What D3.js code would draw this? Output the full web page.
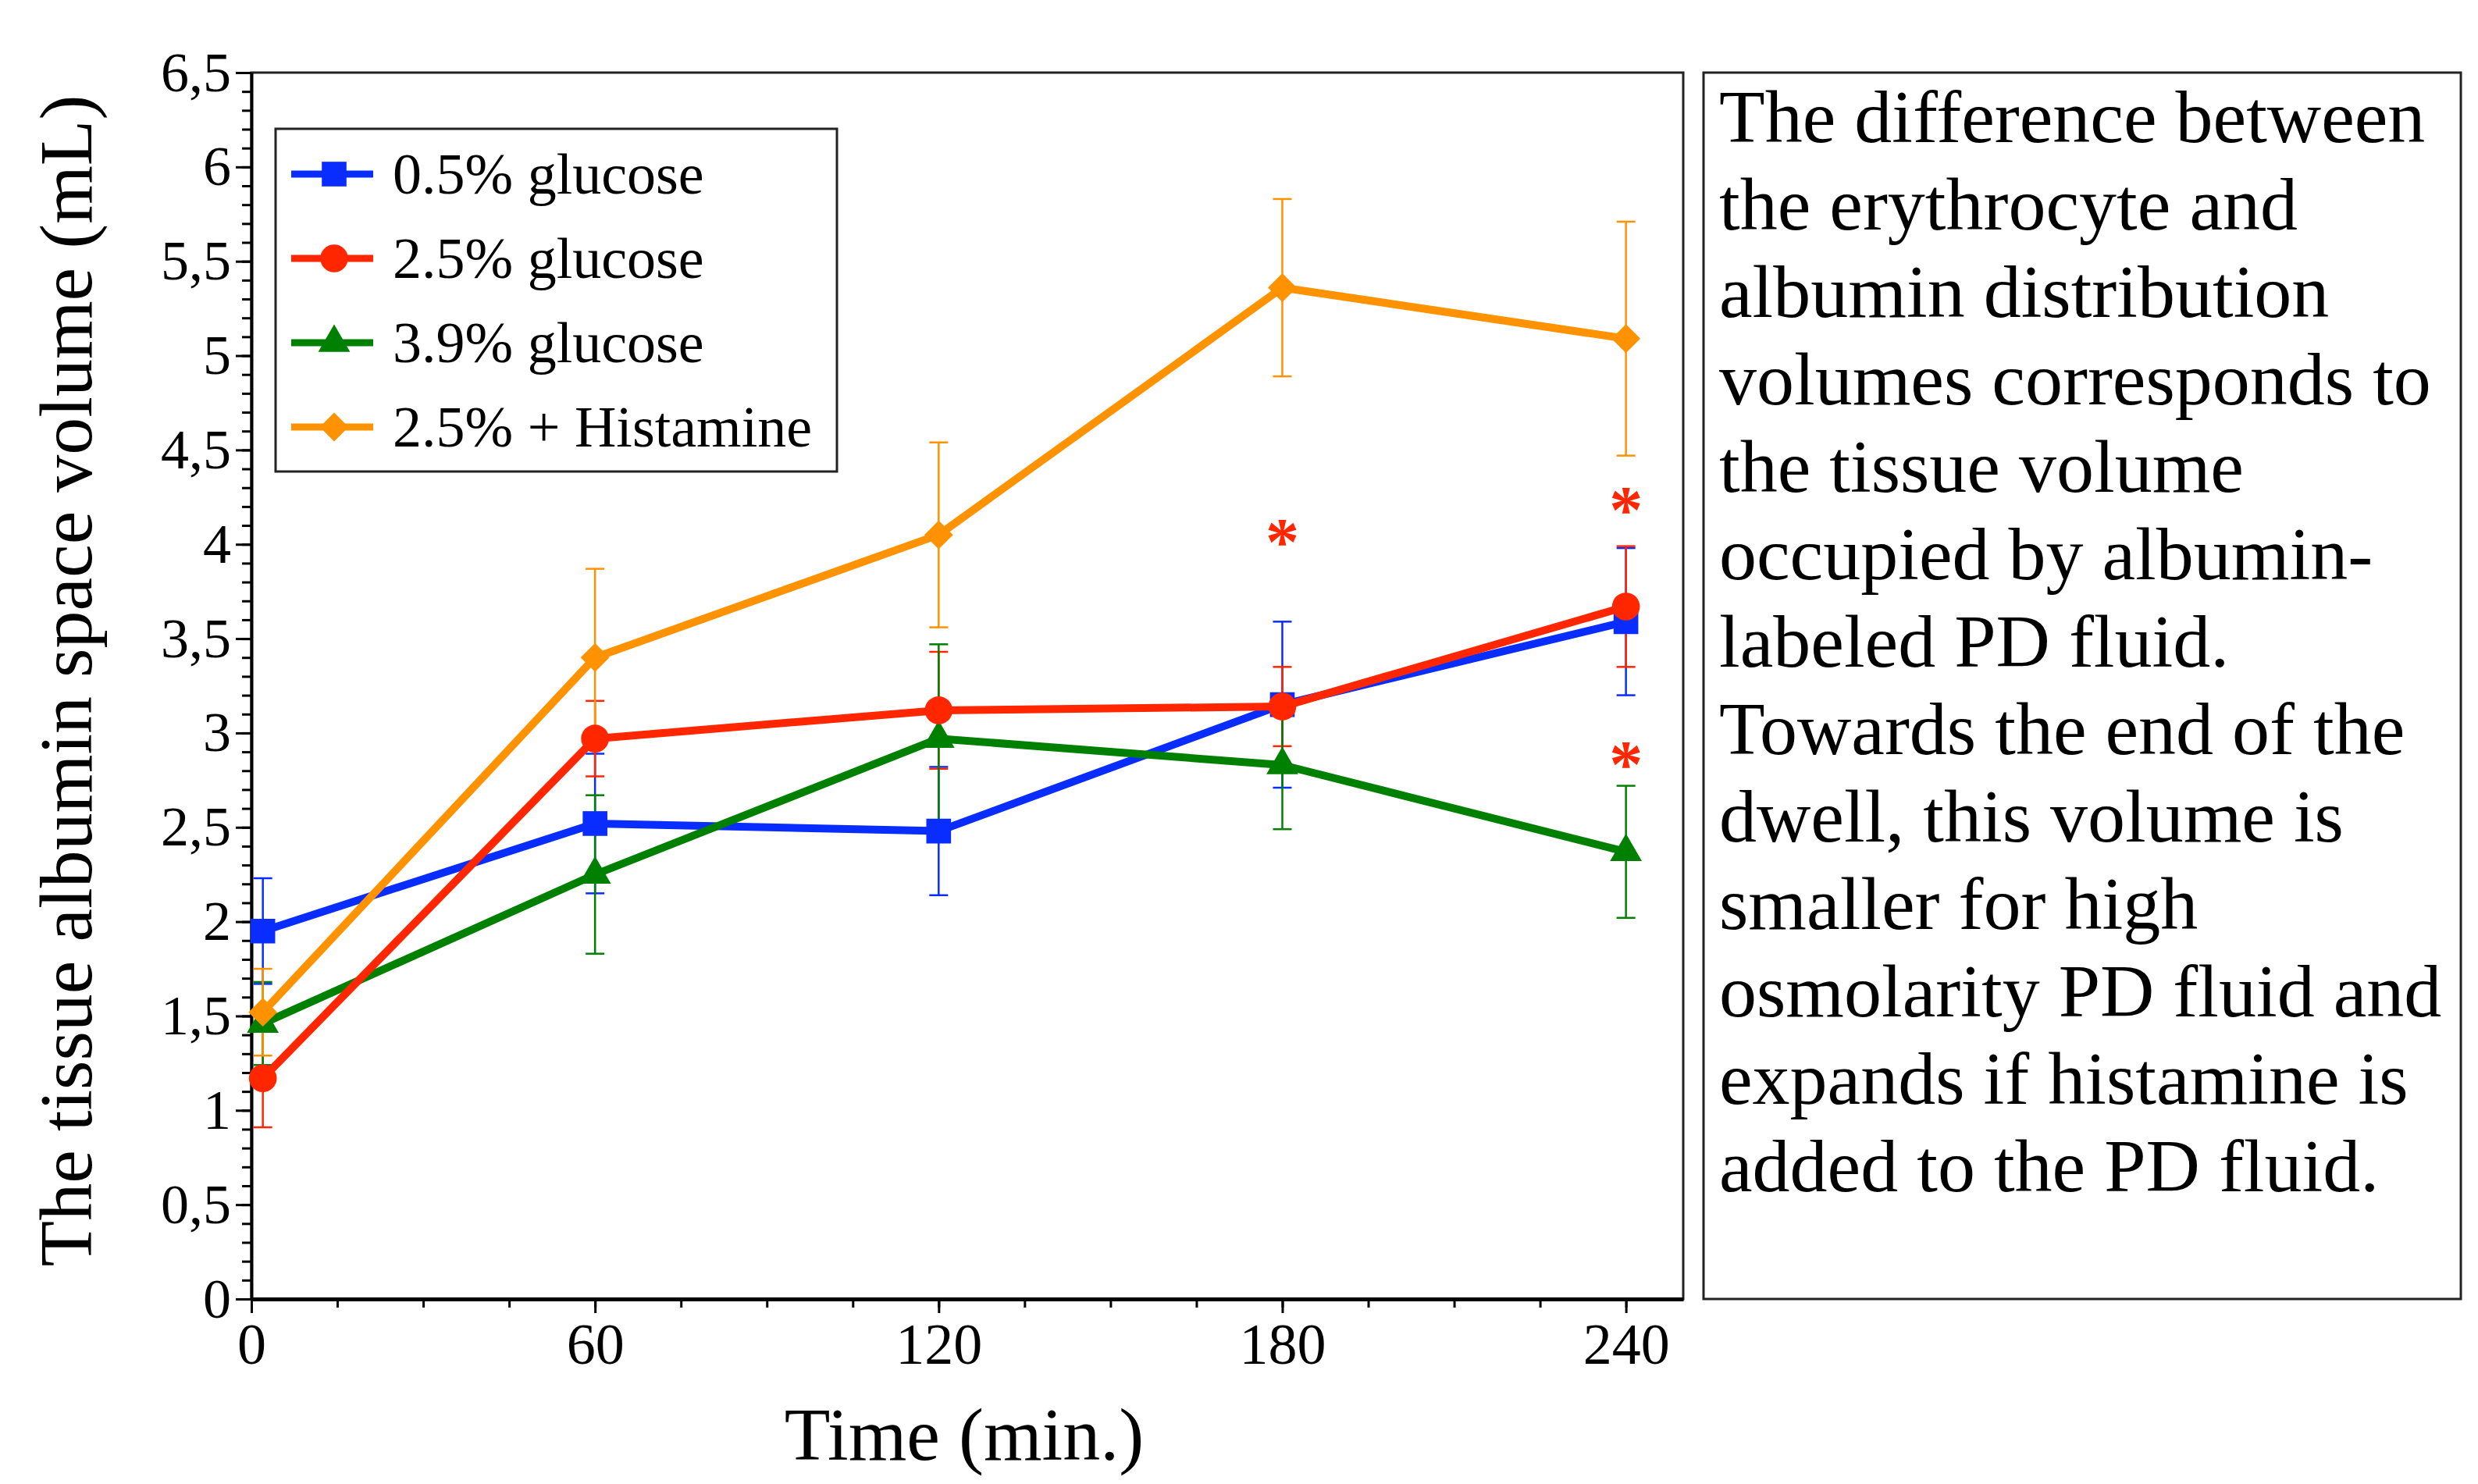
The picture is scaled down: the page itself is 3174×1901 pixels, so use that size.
<!DOCTYPE html>
<html lang="en">
<head>
<meta charset="utf-8">
<title>Tissue albumin space volume</title>
<script src="https://cdn.jsdelivr.net/npm/d3@7"></script>
<style>
  body { margin: 0; background: #fff; }
  text { font-family: "Liberation Serif", "Times New Roman", serif; fill: #000; }
</style>
</head>
<body>
<script>
// data (mean and SD per time point)
var times = [2, 60, 120, 180, 240];
var names = ["0.5% glucose", "2.5% glucose", "3.9% glucose", "2.5% + Histamine"];
var glucose05 = [1.95, 2.52, 2.48, 3.15, 3.59];
var glucose05Err = [0.28, 0.37, 0.34, 0.44, 0.39];
var glucose25 = [1.17, 2.97, 3.12, 3.14, 3.67];
var glucose25Err = [0.26, 0.20, 0.31, 0.21, 0.32];
var glucose39 = [1.46, 2.25, 2.97, 2.83, 2.37];
var glucose39Err = [0.22, 0.42, 0.50, 0.34, 0.35];
var histamine = [1.52, 3.40, 4.05, 5.36, 5.09];
var histamineErr = [0.23, 0.47, 0.49, 0.47, 0.62];
var starTimes = [180, 240, 240];
var starValues = [4.05, 4.22, 2.87];
var xTicks = [0, 60, 120, 180, 240];
var yTicks = [0, 0.5, 1, 1.5, 2, 2.5, 3, 3.5, 4, 4.5, 5, 5.5, 6, 6.5];
var xLabel = "Time (min.)";
var yLabel = "The tissue albumin space volume (mL)";
var noteLines = [
    "The difference between",
    "the erythrocyte and",
    "albumin distribution",
    "volumes corresponds to",
    "the tissue volume",
    "occupied by albumin-",
    "labeled PD fluid.",
    "Towards the end of the",
    "dwell, this volume is",
    "smaller for high",
    "osmolarity PD fluid and",
    "expands if histamine is",
    "added to the PD fluid."
];

var w = 3174, h = 1901;
var plotLeft = 322, plotRight = 2156, plotTop = 93, plotBottom = 1664;

var series = [
    {name: names[0], vals: glucose05, err: glucose05Err, color: "#0a2dff", shape: "square"},
    {name: names[1], vals: glucose25, err: glucose25Err, color: "#ff2600", shape: "circle"},
    {name: names[2], vals: glucose39, err: glucose39Err, color: "#008000", shape: "triangle"},
    {name: names[3], vals: histamine, err: histamineErr, color: "#ff9200", shape: "diamond"}
];
var drawOrder = [0, 2, 3, 1];

var svg = d3.select("body").append("svg")
    .attr("width", w)
    .attr("height", h);

var xScale = d3.scaleLinear().domain([0, 250]).range([plotLeft, plotRight]);
var yScale = d3.scaleLinear().domain([0, 6.5]).range([plotBottom, plotTop]);

function symbolPath(shape) {
    if (shape == "square") return d3.symbol(d3.symbolSquare, 1000)();
    if (shape == "circle") return d3.symbol(d3.symbolCircle, 1000)();
    if (shape == "triangle") return d3.symbol(d3.symbolTriangle, 720)();
    return d3.symbol(d3.symbolSquare, 680)();
}
function symbolRotate(shape) {
    return shape == "diamond" ? " rotate(45)" : "";
}

// frame
svg.append("rect")
   .attr("x", plotLeft).attr("y", plotTop)
   .attr("width", plotRight - plotLeft).attr("height", plotBottom - plotTop)
   .attr("fill", "none").attr("stroke", "#222").attr("stroke-width", 3);

// minor ticks
svg.append("g")
   .attr("transform", "translate(" + plotLeft + ",0)")
   .call(d3.axisLeft(yScale).tickValues(d3.range(0, 6.55, 0.1)).tickSize(12).tickSizeOuter(0).tickFormat(""))
   .call(function(g) { g.select(".domain").remove(); g.selectAll("line").attr("stroke-width", 3); });
svg.append("g")
   .attr("transform", "translate(0," + plotBottom + ")")
   .call(d3.axisBottom(xScale).tickValues(d3.range(0, 250, 15)).tickSize(11).tickSizeOuter(0).tickFormat(""))
   .call(function(g) { g.select(".domain").remove(); g.selectAll("line").attr("stroke-width", 3); });

// major axes
var yAxis = d3.axisLeft(yScale)
    .tickValues(yTicks)
    .tickSize(20)
    .tickSizeOuter(0)
    .tickPadding(6)
    .tickFormat(function(d) { return String(d).replace(".", ","); });
svg.append("g")
   .attr("transform", "translate(" + plotLeft + ",0)")
   .call(yAxis)
   .call(function(g) {
       g.select(".domain").attr("stroke-width", 4);
       g.selectAll("line").attr("stroke-width", 3);
       g.selectAll("text").attr("font-size", 72).attr("font-family", "Liberation Serif");
   });

var xAxis = d3.axisBottom(xScale)
    .tickValues(xTicks)
    .tickSize(18)
    .tickSizeOuter(0)
    .tickPadding(12);
svg.append("g")
   .attr("transform", "translate(0," + plotBottom + ")")
   .call(xAxis)
   .call(function(g) {
       g.select(".domain").attr("stroke-width", 5);
       g.selectAll("line").attr("stroke-width", 3);
       g.selectAll("text").attr("font-size", 74).attr("font-family", "Liberation Serif");
   });

// axis titles
svg.append("text")
   .attr("x", 1235).attr("y", 1870)
   .attr("text-anchor", "middle")
   .attr("font-size", 96)
   .text(xLabel);
svg.append("text")
   .attr("transform", "translate(117,872) rotate(-90)")
   .attr("text-anchor", "middle")
   .attr("font-size", 96)
   .text(yLabel);

// error bars
var cap = 12;
series.forEach(function(s) {
    var g = svg.append("g").attr("stroke", s.color).attr("stroke-width", 2.5);
    times.forEach(function(t, i) {
        var x = xScale(t), y1 = yScale(s.vals[i] + s.err[i]), y2 = yScale(s.vals[i] - s.err[i]);
        g.append("line").attr("x1", x).attr("x2", x).attr("y1", y1).attr("y2", y2);
        g.append("line").attr("x1", x - cap).attr("x2", x + cap).attr("y1", y1).attr("y2", y1);
        g.append("line").attr("x1", x - cap).attr("x2", x + cap).attr("y1", y2).attr("y2", y2);
    });
});

// lines and markers
var line = d3.line()
    .x(function(d) { return xScale(d[0]); })
    .y(function(d) { return yScale(d[1]); });

drawOrder.forEach(function(k) {
    var s = series[k];
    var pts = times.map(function(t, i) { return [t, s.vals[i]]; });
    svg.append("path")
       .attr("d", line(pts))
       .attr("fill", "none")
       .attr("stroke", s.color)
       .attr("stroke-width", 10)
       .attr("stroke-linejoin", "round");
    svg.selectAll(null)
       .data(pts)
       .enter()
       .append("path")
       .attr("d", symbolPath(s.shape))
       .attr("transform", function(d) {
           return "translate(" + xScale(d[0]) + "," + yScale(d[1]) + ")" + symbolRotate(s.shape);
       })
       .attr("fill", s.color);
});

// significance marks
svg.selectAll(null)
   .data(starTimes)
   .enter()
   .append("text")
   .attr("x", function(d) { return xScale(d); })
   .attr("y", function(d, i) { return yScale(starValues[i]) + 38; })
   .attr("text-anchor", "middle")
   .attr("font-size", 86)
   .attr("font-weight", "bold")
   .style("fill", "#ff2600")
   .text("*");

// legend
var legend = svg.append("g");
legend.append("rect")
      .attr("x", 353).attr("y", 165)
      .attr("width", 719).attr("height", 439)
      .attr("fill", "#fff").attr("stroke", "#222").attr("stroke-width", 3);
series.forEach(function(s, i) {
    var ly = 223 + i * 108;
    legend.append("line")
          .attr("x1", 373).attr("x2", 478)
          .attr("y1", ly).attr("y2", ly)
          .attr("stroke", s.color).attr("stroke-width", 9);
    legend.append("path")
          .attr("d", symbolPath(s.shape))
          .attr("transform", "translate(428," + ly + ")" + symbolRotate(s.shape))
          .attr("fill", s.color);
    legend.append("text")
          .attr("x", 503).attr("y", ly + 25)
          .attr("font-size", 74)
          .text(s.name);
});

// note box
svg.append("rect")
   .attr("x", 2182).attr("y", 93)
   .attr("width", 970).attr("height", 1571)
   .attr("fill", "none").attr("stroke", "#222").attr("stroke-width", 3);
svg.append("g")
   .selectAll("text")
   .data(noteLines)
   .enter()
   .append("text")
   .attr("x", 2202)
   .attr("y", function(d, i) { return 182 + i * 112; })
   .attr("font-size", 96)
   .text(function(d) { return d; });
</script>
</body>
</html>
